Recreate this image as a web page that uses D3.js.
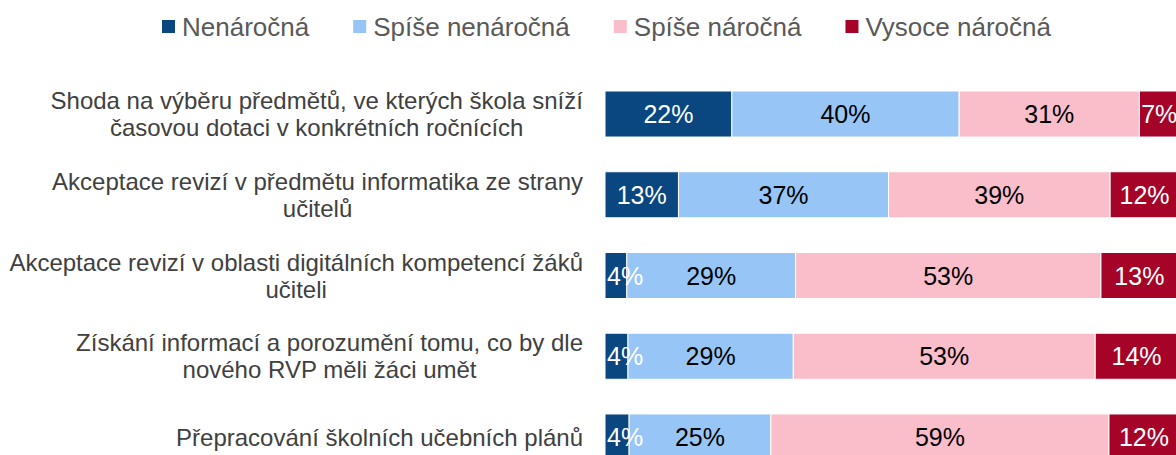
<!DOCTYPE html>
<html>
<head>
<meta charset="utf-8">
<script src="https://cdn.jsdelivr.net/npm/d3@7"></script>
<style>
  body { margin: 0; background: #fff; }
  svg { display: block; font-family: "Liberation Sans", Arial, sans-serif; }
</style>
</head>
<body>
<script>
// data
var categories = [
    "Shoda na výběru předmětů, ve kterých škola sníží\nčasovou dotaci v konkrétních ročnících",
    "Akceptace revizí v předmětu informatika ze strany\nučitelů",
    "Akceptace revizí v oblasti digitálních kompetencí žáků\nučiteli",
    "Získání informací a porozumění tomu, co by dle\nnového RVP měli žáci umět",
    "Přepracování školních učebních plánů"
];
var seriesNames = ["Nenáročná", "Spíše nenáročná", "Spíše náročná", "Vysoce náročná"];
var nenarocna = [22.1, 12.8, 3.8, 4.0, 4.2];
var spiseNenarocna = [39.6, 36.6, 29.4, 28.8, 24.7];
var spiseNarocna = [31.4, 38.6, 53.2, 52.6, 58.9];
var vysoceNarocna = [6.9, 12.0, 13.4, 14.4, 12.2];

var colors = ["#0A467F", "#97C6F6", "#FABDCA", "#A50428"];
var labelColors = ["#fff", "#000", "#000", "#fff"];

var svgWidth = 1176;
var svgHeight = 455;

var svg = d3.select("body")
    .append("svg")
    .attr("width", svgWidth)
    .attr("height", svgHeight);

// build rows for stacking
var rows = categories.map(function(c, i) {
    return { cat: c, s0: nenarocna[i], s1: spiseNenarocna[i], s2: spiseNarocna[i], s3: vysoceNarocna[i] };
});
var keys = ["s0", "s1", "s2", "s3"];
var stacked = d3.stack().keys(keys)(rows);

var x = d3.scaleLinear().domain([0, 100]).range([605, 1179]);
var y = d3.scaleBand()
    .domain(categories)
    .range([91, 460])
    .paddingInner(0.43)
    .paddingOuter(0);

// bars
var layers = svg.selectAll("g.layer")
    .data(stacked)
    .enter()
    .append("g")
    .attr("class", "layer")
    .attr("fill", (d, i) => colors[i]);

layers.selectAll("rect")
    .data(d => d)
    .enter()
    .append("rect")
    .attr("x", d => x(d[0]))
    .attr("y", d => y(d.data.cat))
    .attr("width", d => x(d[1]) - x(d[0]))
    .attr("height", y.bandwidth())
    .attr("stroke", "#fff")
    .attr("stroke-width", 1);

// value labels (drawn on top of all bars)
var labelGroup = svg.append("g");
stacked.forEach(function(layer, li) {
    labelGroup.selectAll(null)
        .data(layer)
        .enter()
        .append("text")
        .attr("x", d => (x(d[0]) + x(d[1])) / 2)
        .attr("y", d => y(d.data.cat) + y.bandwidth() / 2)
        .attr("dy", "0.36em")
        .attr("text-anchor", "middle")
        .attr("font-size", "25px")
        .attr("fill", labelColors[li])
        .text(d => Math.round(d[1] - d[0]) + "%")
        .each(function(d) {
            // keep narrow labels inside the bar's left edge
            var half = this.getComputedTextLength() / 2;
            var cx = (x(d[0]) + x(d[1])) / 2;
            if (cx - half < x(0) + 2) d3.select(this).attr("x", x(0) + 2 + half);
        });
});

// category labels
var lineHeight = 27;
categories.forEach(function(c) {
    var lines = c.split("\n");
    var cy = y(c) + y.bandwidth() / 2;
    var t = svg.append("text")
        .attr("text-anchor", "middle")
        .attr("font-size", "24px")
        .attr("fill", "#404040");
    lines.forEach(function(line, j) {
        t.append("tspan")
            .attr("x", 0)
            .attr("y", cy + (j - (lines.length - 1) / 2) * lineHeight)
            .attr("dy", "0.36em")
            .text(line);
    });
    // right-align the block, centre each line inside it
    var w = t.node().getBBox().width;
    t.selectAll("tspan").attr("x", 583 - w / 2);
});

// legend
var legend = svg.append("g");
var lx = 162;
seriesNames.forEach(function(name, i) {
    legend.append("rect")
        .attr("x", lx)
        .attr("y", 20)
        .attr("width", 13)
        .attr("height", 13)
        .attr("fill", colors[i]);
    var t = legend.append("text")
        .attr("x", lx + 20)
        .attr("y", 36)
        .attr("font-size", "26px")
        .attr("fill", "#595959")
        .text(name);
    lx += 20 + t.node().getComputedTextLength() + 44;
});
</script>
</body>
</html>
